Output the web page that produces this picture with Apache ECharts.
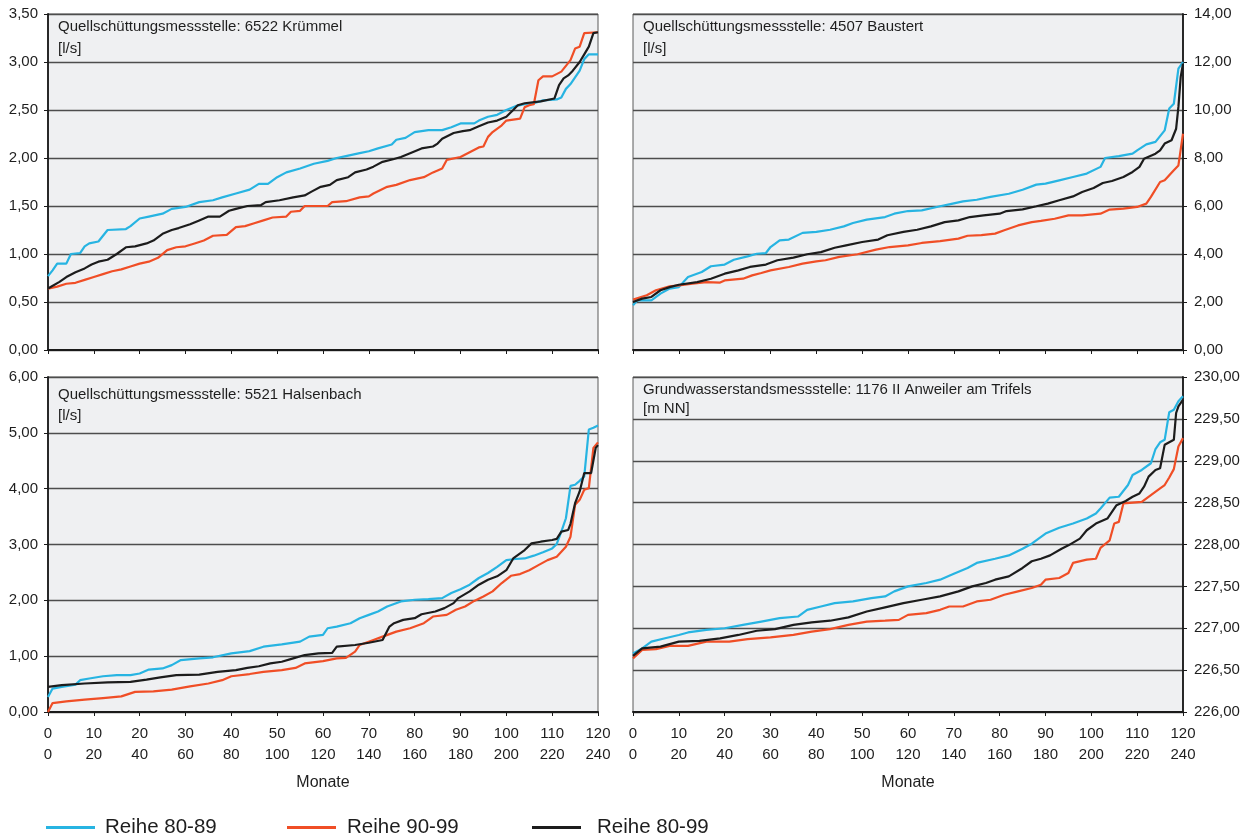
<!DOCTYPE html>
<html>
<head>
<meta charset="utf-8">
<script src="https://cdn.jsdelivr.net/npm/echarts@6/dist/echarts.min.js"></script>
<style>
html,body{margin:0;padding:0;background:#fff;}
#chart{width:1246px;height:837px;}
</style>
</head>
<body>
<div id="chart"></div>
<script>
// ---- data (month rank, value) ----
const seriesNames = ['Reihe 80-89', 'Reihe 90-99', 'Reihe 80-99'];
const panelTitles = [
  'Quellschüttungsmessstelle: 6522 Krümmel\n[l/s]',
  'Quellschüttungsmessstelle: 4507 Baustert\n[l/s]',
  'Quellschüttungsmessstelle: 5521 Halsenbach\n[l/s]',
  'Grundwasserstandsmessstelle: 1176 II Anweiler am Trifels\n[m NN]'
];
const xTicks120 = [0, 120, 10];
const xTicks240 = [0, 240, 20];
const yRanges = [[0, 3.5, 0.5], [0, 14, 2], [0, 6, 1], [226, 230, 0.5]];

// Panel 1: Krümmel
const krummel_8089 = [[0,0.77],[1,0.83],[2,0.90],[4,0.90],[5,1.00],[7,1.01],[8,1.08],[9,1.11],[11,1.13],[13,1.25],[17,1.26],[18,1.29],[20,1.37],[22,1.39],[25,1.42],[27,1.47],[30,1.49],[33,1.54],[36,1.56],[38,1.59],[41,1.63],[44,1.67],[46,1.73],[48,1.73],[50,1.80],[52,1.85],[55,1.89],[58,1.94],[61,1.97],[63,2.00],[65,2.02],[68,2.05],[70,2.07],[72,2.10],[75,2.14],[76,2.19],[78,2.21],[80,2.27],[83,2.29],[86,2.29],[88,2.32],[90,2.36],[93,2.36],[94,2.39],[96,2.43],[98,2.45],[100,2.50],[102,2.54],[104,2.56],[106,2.57],[108,2.60],[111,2.61],[112,2.63],[113,2.72],[114,2.77],[116,2.91],[117,3.03],[118,3.08],[120,3.08]];
const krummel_9099 = [[0,0.64],[2,0.66],[4,0.69],[6,0.70],[8,0.73],[10,0.76],[12,0.79],[14,0.82],[16,0.84],[18,0.87],[20,0.90],[22,0.92],[24,0.96],[26,1.04],[28,1.07],[30,1.08],[32,1.11],[34,1.14],[36,1.19],[39,1.20],[41,1.28],[43,1.29],[45,1.32],[47,1.35],[49,1.38],[52,1.39],[53,1.44],[55,1.45],[56,1.50],[61,1.50],[62,1.54],[65,1.55],[68,1.59],[70,1.60],[71,1.63],[74,1.70],[76,1.72],[79,1.77],[82,1.80],[84,1.85],[86,1.89],[87,1.98],[90,2.01],[92,2.06],[94,2.11],[95,2.12],[96,2.22],[97,2.27],[99,2.34],[100,2.39],[103,2.41],[104,2.53],[105,2.55],[106,2.56],[107,2.81],[108,2.85],[110,2.85],[112,2.90],[114,3.02],[115,3.14],[116,3.16],[117,3.30],[120,3.31]];
const krummel_8099 = [[0,0.64],[5,0.71],[8,0.76],[12,0.81],[16,0.85],[19,0.89],[22,0.92],[26,0.94],[30,1.00],[34,1.07],[38,1.08],[43,1.11],[46,1.14],[50,1.21],[54,1.25],[57,1.27],[62,1.31],[66,1.35],[70,1.39],[75,1.39],[79,1.45],[82,1.47],[87,1.50],[93,1.51],[95,1.54],[101,1.56],[107,1.59],[112,1.61],[115,1.65],[119,1.70],[123,1.72],[126,1.77],[131,1.80],[134,1.85],[139,1.88],[142,1.91],[146,1.96],[151,1.99],[154,2.01],[158,2.05],[163,2.10],[168,2.12],[170,2.15],[172,2.20],[177,2.26],[181,2.28],[184,2.29],[188,2.33],[192,2.37],[196,2.39],[200,2.43],[203,2.50],[205,2.55],[208,2.57],[215,2.59],[221,2.62],[223,2.76],[225,2.83],[227,2.86],[229,2.91],[232,3.00],[234,3.08],[236,3.16],[238,3.30],[240,3.31]];

// Panel 2: Baustert
const baustert_8089 = [[0,1.86],[1,2.07],[4,2.07],[6,2.35],[8,2.56],[10,2.62],[12,3.04],[15,3.25],[17,3.49],[20,3.56],[22,3.76],[25,3.90],[27,4.01],[29,4.04],[30,4.29],[32,4.57],[34,4.60],[37,4.88],[40,4.92],[43,5.01],[46,5.15],[48,5.29],[51,5.43],[55,5.54],[57,5.68],[60,5.79],[63,5.82],[67,5.99],[69,6.07],[72,6.19],[75,6.26],[78,6.38],[82,6.51],[85,6.68],[88,6.89],[90,6.93],[93,7.07],[96,7.21],[99,7.35],[102,7.63],[103,8.00],[106,8.08],[109,8.18],[110,8.32],[112,8.57],[114,8.67],[116,9.15],[117,10.06],[118,10.26],[119,11.72],[120,12.0]];
const baustert_9099 = [[0,2.10],[3,2.28],[5,2.49],[8,2.65],[10,2.69],[13,2.76],[16,2.83],[19,2.81],[20,2.90],[24,2.97],[26,3.11],[28,3.21],[30,3.32],[34,3.46],[37,3.60],[40,3.69],[42,3.74],[45,3.88],[49,3.99],[53,4.18],[56,4.29],[60,4.36],[63,4.46],[67,4.54],[71,4.64],[73,4.76],[76,4.79],[79,4.85],[81,4.99],[84,5.19],[87,5.33],[89,5.38],[92,5.47],[95,5.61],[98,5.61],[102,5.68],[104,5.85],[107,5.89],[110,5.96],[112,6.10],[113,6.38],[115,7.00],[116,7.07],[118,7.49],[119,7.69],[120,9.01]];
const baustert_8099 = [[0,2.00],[4,2.14],[8,2.21],[12,2.49],[16,2.62],[20,2.72],[28,2.83],[34,2.97],[40,3.18],[46,3.32],[51,3.46],[58,3.56],[63,3.74],[70,3.85],[76,3.99],[82,4.08],[88,4.26],[93,4.36],[100,4.50],[107,4.60],[111,4.78],[118,4.92],[124,5.01],[130,5.15],[136,5.33],[142,5.40],[147,5.54],[153,5.61],[160,5.68],[163,5.79],[170,5.86],[176,5.99],[181,6.10],[186,6.24],[192,6.40],[196,6.58],[201,6.75],[205,6.96],[209,7.04],[214,7.21],[218,7.42],[221,7.63],[223,7.97],[228,8.18],[230,8.32],[232,8.60],[235,8.74],[237,9.22],[238,10.13],[239,11.38],[240,11.93]];

// Panel 3: Halsenbach
const halsenbach_8089 = [[0,0.27],[1,0.42],[3,0.45],[6,0.49],[7,0.57],[9,0.60],[12,0.64],[15,0.66],[18,0.66],[20,0.69],[22,0.76],[25,0.78],[27,0.84],[29,0.93],[33,0.96],[36,0.98],[40,1.05],[44,1.09],[47,1.17],[51,1.21],[55,1.26],[57,1.35],[60,1.38],[61,1.50],[63,1.53],[66,1.59],[68,1.68],[70,1.74],[72,1.80],[74,1.89],[77,1.98],[80,2.01],[83,2.02],[86,2.04],[88,2.13],[90,2.20],[92,2.28],[94,2.40],[96,2.49],[98,2.60],[100,2.72],[102,2.74],[104,2.75],[106,2.80],[108,2.86],[110,2.93],[111,3.01],[112,3.23],[113,3.47],[114,4.05],[115,4.07],[116,4.14],[117,4.22],[118,5.06],[119,5.09],[120,5.13]];
const halsenbach_9099 = [[0,0.0],[1,0.16],[4,0.19],[8,0.22],[12,0.25],[16,0.28],[19,0.36],[23,0.37],[27,0.40],[31,0.46],[35,0.51],[38,0.57],[40,0.64],[44,0.68],[47,0.72],[51,0.75],[54,0.79],[56,0.87],[60,0.91],[63,0.96],[65,0.97],[67,1.08],[68,1.20],[71,1.29],[73,1.35],[76,1.44],[79,1.50],[82,1.59],[84,1.71],[87,1.74],[89,1.83],[91,1.89],[93,1.99],[95,2.07],[97,2.16],[99,2.31],[101,2.44],[103,2.47],[105,2.54],[107,2.63],[109,2.72],[111,2.78],[112,2.87],[113,2.96],[114,3.14],[115,3.71],[116,3.80],[117,3.98],[118,4.01],[119,4.73],[120,4.83]];
const halsenbach_8099 = [[0,0.45],[6,0.48],[16,0.51],[26,0.53],[36,0.54],[43,0.58],[49,0.62],[56,0.66],[66,0.67],[74,0.72],[82,0.75],[87,0.79],[92,0.82],[97,0.87],[102,0.90],[107,0.96],[112,1.02],[118,1.05],[124,1.06],[126,1.17],[134,1.20],[140,1.24],[146,1.29],[149,1.53],[151,1.59],[155,1.65],[160,1.68],[163,1.75],[169,1.80],[173,1.86],[177,1.95],[179,2.04],[184,2.16],[188,2.28],[192,2.37],[196,2.43],[200,2.54],[203,2.75],[208,2.90],[211,3.02],[215,3.05],[220,3.08],[222,3.10],[224,3.23],[227,3.26],[228,3.37],[230,3.74],[232,3.95],[234,4.28],[237,4.28],[239,4.73],[240,4.78]];

// Panel 4: Anweiler am Trifels
const anweiler_8089 = [[0,226.70],[2,226.76],[4,226.84],[7,226.88],[10,226.92],[12,226.95],[16,226.98],[20,227.00],[24,227.04],[28,227.08],[32,227.12],[36,227.14],[38,227.22],[41,227.26],[44,227.30],[48,227.32],[52,227.36],[55,227.38],[57,227.44],[60,227.50],[64,227.54],[67,227.58],[70,227.65],[73,227.72],[75,227.78],[79,227.83],[82,227.87],[85,227.95],[87,228.01],[90,228.13],[93,228.20],[96,228.25],[99,228.31],[101,228.37],[102,228.43],[104,228.56],[106,228.57],[108,228.71],[109,228.83],[111,228.89],[113,228.97],[114,229.14],[115,229.22],[116,229.25],[117,229.58],[118,229.61],[119,229.71],[120,229.77]];
const anweiler_9099 = [[0,226.64],[2,226.74],[5,226.75],[8,226.79],[12,226.79],[16,226.84],[21,226.84],[25,226.87],[30,226.89],[35,226.92],[39,226.96],[43,226.99],[47,227.04],[51,227.08],[55,227.09],[58,227.10],[60,227.16],[64,227.18],[67,227.22],[69,227.26],[72,227.26],[75,227.32],[78,227.34],[81,227.40],[84,227.44],[87,227.48],[89,227.52],[90,227.58],[93,227.60],[95,227.66],[96,227.78],[99,227.82],[101,227.83],[102,227.96],[104,228.05],[105,228.25],[106,228.27],[107,228.49],[111,228.51],[113,228.59],[115,228.67],[116,228.71],[117,228.80],[118,228.90],[119,229.17],[120,229.27]];
const anweiler_8099 = [[0,226.67],[4,226.76],[12,226.78],[20,226.84],[29,226.85],[38,226.88],[46,226.92],[54,226.97],[62,226.99],[70,227.04],[78,227.07],[86,227.09],[94,227.13],[102,227.20],[110,227.25],[118,227.30],[126,227.34],[134,227.38],[142,227.44],[148,227.50],[154,227.54],[158,227.58],[164,227.62],[170,227.72],[174,227.80],[178,227.83],[182,227.87],[187,227.95],[190,227.99],[195,228.07],[198,228.17],[202,228.25],[207,228.31],[211,228.47],[215,228.52],[218,228.57],[221,228.61],[223,228.69],[225,228.81],[228,228.89],[230,228.91],[232,229.19],[236,229.25],[237,229.57],[238,229.65],[240,229.73]];

const panelData = [
  [krummel_8089, krummel_9099, krummel_8099],
  [baustert_8089, baustert_9099, baustert_8099],
  [halsenbach_8089, halsenbach_9099, halsenbach_8099],
  [anweiler_8089, anweiler_9099, anweiler_8099]
];

// ---- layout / style ----
const FONT = "'Liberation Sans', Arial, Helvetica, sans-serif";
const colors = ['#27b4e2', '#f04e26', '#1c1c1c'];
const grids = [
  {left: 48, top: 14, width: 550, height: 336},
  {left: 633, top: 14, width: 550, height: 336},
  {left: 48, top: 377, width: 550, height: 335},
  {left: 633, top: 377, width: 550, height: 335}
];
const titlePos = [
  {left: 58, top: 16, lh: 22},
  {left: 643, top: 16, lh: 22},
  {left: 58, top: 384, lh: 21},
  {left: 643, top: 380, lh: 19}
];
const fmt = v => v.toFixed(2).replace('.', ',');

const option = {
  animation: false,
  backgroundColor: '#ffffff',
  textStyle: {fontFamily: FONT},
  title: panelTitles.map((t, i) => ({
    text: t, left: titlePos[i].left, top: titlePos[i].top, padding: 0,
    textStyle: {fontSize: 15, fontWeight: 'normal', color: '#1e1e1e', fontFamily: FONT, lineHeight: titlePos[i].lh}
  })),
  grid: grids.map(g => Object.assign({show: true, backgroundColor: '#eff0f2', borderColor: '#5a5a5a', borderWidth: 1, containLabel: false}, g)),
  xAxis: [],
  yAxis: [],
  legend: [
    {left: 46, data: [seriesNames[0]], textPad: 5},
    {left: 287, data: [seriesNames[1]], textPad: 6},
    {left: 532, data: [seriesNames[2]], textPad: 11}
  ].map(l => ({
    left: l.left, top: 817, padding: 0, icon: 'rect', itemWidth: 49, itemHeight: 3,
    data: l.data, selectedMode: false,
    textStyle: {fontSize: 20.5, color: '#1e1e1e', fontFamily: FONT, padding: [0, 0, 0, l.textPad]}
  })),
  series: []
};

grids.forEach((g, i) => {
  const bottomRow = i >= 2;
  const rightSide = i % 2 === 1;
  option.xAxis.push({
    type: 'value', gridIndex: i, position: 'bottom',
    min: xTicks120[0], max: xTicks120[1], interval: xTicks120[2],
    axisLine: {show: true, onZero: false, lineStyle: {color: '#1a1a1a', width: 2}},
    axisTick: {show: true, length: 4, lineStyle: {color: '#1a1a1a', width: 1}},
    axisLabel: {show: bottomRow, margin: 14, fontSize: 15, color: '#1e1e1e', fontFamily: FONT},
    splitLine: {show: false}
  });
  option.xAxis.push({
    type: 'value', gridIndex: i, position: 'bottom', offset: 22,
    min: xTicks240[0], max: xTicks240[1], interval: xTicks240[2],
    axisLine: {show: false}, axisTick: {show: false},
    axisLabel: {show: bottomRow, margin: 13, fontSize: 15, color: '#1e1e1e', fontFamily: FONT},
    splitLine: {show: false},
    name: bottomRow ? 'Monate' : '', nameLocation: 'middle', nameGap: 41,
    nameTextStyle: {fontSize: 16, color: '#1e1e1e', fontFamily: FONT}
  });
  const yr = yRanges[i];
  option.yAxis.push({
    type: 'value', gridIndex: i, position: rightSide ? 'right' : 'left',
    min: yr[0], max: yr[1], interval: yr[2],
    axisLine: {show: true, onZero: false, lineStyle: {color: '#1a1a1a', width: 1.8}},
    axisTick: {show: true, length: 4, lineStyle: {color: '#1a1a1a'}},
    axisLabel: {formatter: fmt, fontSize: 15, color: '#1e1e1e', margin: rightSide ? 11 : 10, fontFamily: FONT},
    splitLine: {show: true, lineStyle: {color: '#4d4d4d', width: 1.4}}
  });
  panelData[i].forEach((d, k) => {
    option.series.push({
      name: seriesNames[k], type: 'line',
      xAxisIndex: k === 2 ? 2 * i + 1 : 2 * i, yAxisIndex: i,
      data: d, showSymbol: false, symbol: 'none',
      lineStyle: {width: 2.2, color: colors[k]}, itemStyle: {color: colors[k]},
      z: 2 + k
    });
  });
});

const chart = echarts.init(document.getElementById('chart'), null, {renderer: 'canvas'});
chart.setOption(option);
</script>
</body>
</html>
